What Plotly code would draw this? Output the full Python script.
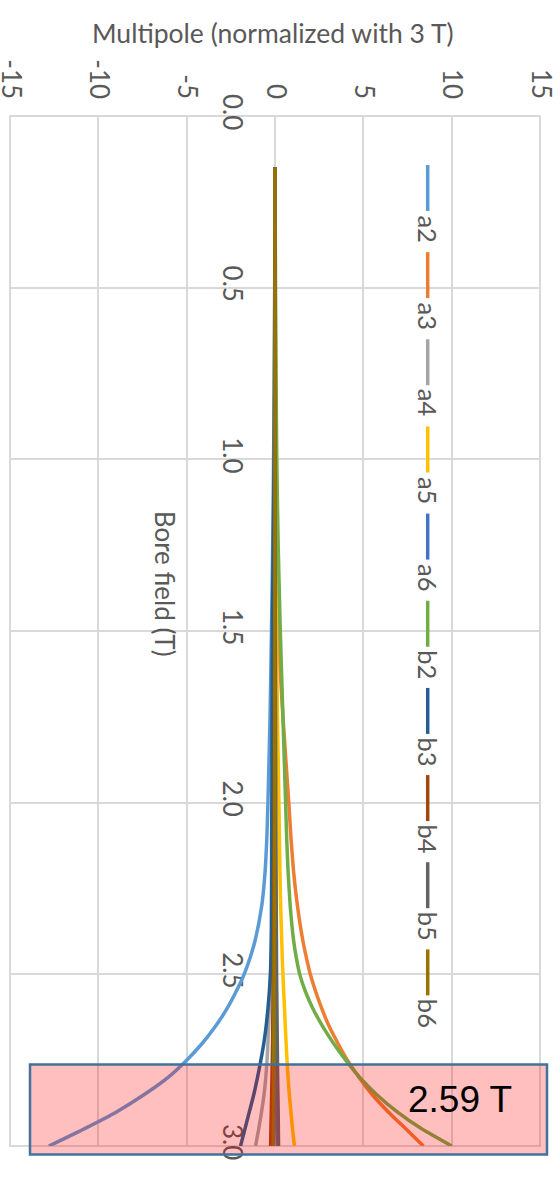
import plotly.graph_objects as go

# Bore field sampling points (T)
field = [0.15, 0.25, 0.5, 0.75, 1.0, 1.25, 1.5, 1.75, 2.0, 2.1, 2.2, 2.3, 2.4, 2.45,
         2.5, 2.55, 2.6, 2.65, 2.7, 2.75, 2.8, 2.85, 2.9, 2.95, 3.0]

# Multipoles normalized with 3 T
a2 = [0, 0, -0.02, -0.04, -0.08, -0.13, -0.2, -0.28, -0.4, -0.46, -0.56, -0.75, -1.12, -1.4,
      -1.75, -2.2, -2.72, -3.35, -4.1, -5.0, -6.05, -7.4, -8.95, -10.8, -12.8]
a3 = [0, 0, 0.01, 0.03, 0.05, 0.1, 0.18, 0.45, 0.78, 0.9, 1.05, 1.27, 1.57, 1.77,
      2.0, 2.3, 2.65, 3.05, 3.55, 4.1, 4.75, 5.5, 6.4, 7.4, 8.4]
a4 = [0, 0, 0, -0.01, -0.01, -0.02, -0.03, -0.05, -0.08, -0.1, -0.12, -0.15, -0.2, -0.22,
      -0.25, -0.28, -0.32, -0.36, -0.4, -0.45, -0.52, -0.62, -0.76, -0.92, -1.1]
a5 = [0, 0, 0, 0.01, 0.02, 0.04, 0.08, 0.14, 0.22, 0.25, 0.28, 0.32, 0.38, 0.41,
      0.45, 0.49, 0.54, 0.58, 0.63, 0.68, 0.74, 0.81, 0.9, 0.99, 1.1]
a6 = [0, 0, 0, 0, 0, 0, 0, 0.01, 0.01, 0.02, 0.02, 0.03, 0.03, 0.035,
      0.04, 0.045, 0.05, 0.055, 0.06, 0.065, 0.07, 0.08, 0.09, 0.1, 0.12]
b2 = [0, 0.01, 0.03, 0.06, 0.1, 0.18, 0.3, 0.45, 0.6, 0.66, 0.74, 0.86, 1.05, 1.2,
      1.4, 1.72, 2.15, 2.68, 3.3, 4.0, 4.8, 5.75, 6.9, 8.3, 10.0]
b3 = [0, 0, -0.01, -0.03, -0.05, -0.1, -0.15, -0.17, -0.18, -0.19, -0.19, -0.2, -0.21, -0.23,
      -0.26, -0.32, -0.4, -0.5, -0.63, -0.8, -0.99, -1.2, -1.45, -1.7, -1.95]
b4 = [0, 0, 0, 0, -0.01, -0.01, -0.02, -0.03, -0.04, -0.05, -0.06, -0.07, -0.08, -0.09,
      -0.1, -0.11, -0.12, -0.13, -0.14, -0.155, -0.17, -0.19, -0.21, -0.23, -0.25]
b5 = [0, 0, 0, 0, 0.01, 0.01, 0.02, 0.03, 0.04, 0.05, 0.06, 0.07, 0.08, 0.085,
      0.09, 0.1, 0.11, 0.12, 0.13, 0.14, 0.15, 0.165, 0.18, 0.19, 0.2]
b6 = [0, 0, 0, 0, 0, 0, -0.01, -0.01, -0.02, -0.02, -0.03, -0.03, -0.04, -0.045,
      -0.05, -0.055, -0.06, -0.065, -0.07, -0.075, -0.08, -0.085, -0.09, -0.095, -0.1]

names = ["a2", "a3", "a4", "a5", "a6", "b2", "b3", "b4", "b5", "b6"]
series = [a2, a3, a4, a5, a6, b2, b3, b4, b5, b6]
colors = ["#5B9BD5", "#ED7D31", "#A5A5A5", "#FFC000", "#4472C4",
          "#70AD47", "#255E91", "#9E480E", "#636363", "#997300"]

x_ticks = [-15, -10, -5, 0, 5, 10, 15]
y_ticks = [0.0, 0.5, 1.0, 1.5, 2.0, 2.5, 3.0]
highlight_label = "2.59 T"

W, H = 560, 1182
L, R, T, B = 10, 540, 116, 1146.5
TEXT = "#595959"
GRID = "#D9D9D9"
FONT = "Lato"


def px(xp):
    return (xp - L) / (R - L)


def py(yp):
    return 1 - (yp - T) / (B - T)


fig = go.Figure()
for name, vals, col in zip(names, series, colors):
    fig.add_trace(go.Scatter(
        x=vals, y=field, mode="lines", name=name,
        line=dict(color=col, width=3.5, shape="spline", smoothing=0.5),
        showlegend=False,
    ))

shapes = []
annotations = []

# plot-area frame in grid colour
shapes.append(dict(type="rect", xref="paper", yref="paper", x0=0, x1=1, y0=0, y1=1,
                   line=dict(color=GRID, width=2), fillcolor="rgba(0,0,0,0)",
                   layer="between"))

# legend panel (white box over the grid)
shapes.append(dict(type="rect", xref="paper", yref="paper",
                   x0=px(360), x1=px(496), y0=py(153), y1=py(1032),
                   fillcolor="white", line=dict(width=0), layer="between"))
pitch = 87.2
for i, (name, col) in enumerate(zip(names, colors)):
    top = 165 + pitch * i
    shapes.append(dict(type="line", xref="paper", yref="paper",
                       x0=px(427.7), x1=px(427.7), y0=py(top), y1=py(top + 46),
                       line=dict(color=col, width=3.5), layer="above"))
    annotations.append(dict(xref="paper", yref="paper", x=px(428), y=py(top + 63.5),
                            text=name, showarrow=False, textangle=90,
                            font=dict(family=FONT, size=25.5, color=TEXT),
                            xanchor="center", yanchor="middle"))

# highlighted high-field band
shapes.append(dict(type="rect", xref="paper", yref="paper",
                   x0=px(30), x1=px(547), y0=py(1155), y1=py(1065),
                   fillcolor="rgba(255,0,0,0.25)",
                   line=dict(color="#41719C", width=2.5), layer="above"))
annotations.append(dict(xref="paper", yref="paper", x=px(460), y=py(1100),
                        text=highlight_label, showarrow=False,
                        font=dict(family="Liberation Sans", size=37, color="black"),
                        xanchor="center", yanchor="middle"))

# axis titles
annotations.append(dict(xref="paper", yref="paper", x=px(273), y=py(33),
                        text="Multipole (normalized with 3 T)", showarrow=False,
                        font=dict(family=FONT, size=26.5, color=TEXT),
                        xanchor="center", yanchor="middle"))
annotations.append(dict(xref="paper", yref="paper", x=px(165), y=py(584),
                        text="Bore field (T)", showarrow=False, textangle=90,
                        font=dict(family=FONT, size=26, color=TEXT),
                        xanchor="center", yanchor="middle"))

fig.update_layout(
    width=W, height=H,
    margin=dict(l=L, r=W - R, t=T, b=H - B, pad=0, autoexpand=False),
    paper_bgcolor="white", plot_bgcolor="white",
    shapes=shapes, annotations=annotations,
    xaxis=dict(range=[-15, 15], side="top", tickvals=x_ticks,
               ticktext=[str(v) for v in x_ticks], tickangle=90,
               showgrid=True, gridcolor=GRID, gridwidth=2,
               zeroline=False, showline=False, ticks="",
               automargin=False, ticklabeloverflow="allow",
               ticklabelstandoff=12,
               tickfont=dict(family=FONT, size=26, color=TEXT)),
    yaxis=dict(range=[3, 0], tickvals=y_ticks,
               ticktext=[f"{v:.1f}" for v in y_ticks], tickangle=90,
               anchor="free", position=0.5, side="left",
               showgrid=True, gridcolor=GRID, gridwidth=2,
               zeroline=False, showline=True, linecolor=GRID, linewidth=2,
               layer="below traces",
               ticks="", automargin=False, ticklabeloverflow="allow",
               ticklabelstandoff=20,
               tickfont=dict(family=FONT, size=26, color=TEXT)),
)

fig.write_html("out.html")
